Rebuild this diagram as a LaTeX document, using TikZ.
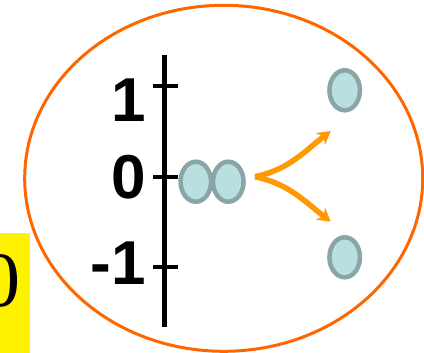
\documentclass[tikz,border=0pt]{standalone}
\usepackage{fontspec}
\newfontfamily\axisfont{Liberation Sans}
\newfontfamily\boxfont{Liberation Serif}
\usetikzlibrary{arrows.meta, shapes.geometric}
\definecolor{rimorange}{HTML}{FF6600}
\definecolor{flowamber}{HTML}{FF9900}
\definecolor{ballfill}{HTML}{B9DFE0}
\definecolor{balledge}{HTML}{89A5A6}

\begin{document}
\begin{tikzpicture}[x=1pt, y=1pt,
  ball/.style={draw=balledge, fill=ballfill, ellipse, line width=4.5pt, inner sep=0pt, minimum width=30.5pt, minimum height=40pt},
  flow/.style={draw=flowamber, line width=5.5pt, -{Stealth[length=13pt, width=15pt]}},
  lbl/.style={anchor=base east, inner sep=0pt, font=\axisfont\bfseries\fontsize{62}{62}\selectfont}]
  \useasboundingbox (0,0) rectangle (424,353);
  \fill[yellow] (0,0) rectangle (30,120);
  \node (zero) [anchor=base, inner sep=0pt, font=\boxfont\fontsize{78}{78}\selectfont] at (1,46) {0};
  \draw[rimorange, line width=3pt] (223.7,174.7) ellipse [x radius=199, y radius=173];
  % axis and ticks
  \draw[line width=5pt] (164,26) -- (164,298);
  \foreach \y in {86,176,267} \draw[line width=4.5pt] (153,\y) -- (178,\y);
  \node (one) [lbl] at (146,231) {1};
  \node (nil) [lbl] at (146,154) {0};
  \node (minus) [lbl] at (146,68) {-1};
  % pair at zero, then split
  \node (left) [ball] at (195.8,171.3) {};
  \node (right) [ball] at (228.3,171.3) {};
  \node (upper) [ball] at (344.7,262.7) {};
  \node (lower) [ball] at (344.7,95.7) {};
  \coordinate (split) at (255,176.3);
  \coordinate (uptip) at (330.7,222);
  \coordinate (downtip) at (330.7,131.3);
  \draw[flow] (split) to[out=12, in=218] (uptip);
  \draw[flow] (split) to[out=-12, in=142] (downtip);
\end{tikzpicture}
\end{document}
